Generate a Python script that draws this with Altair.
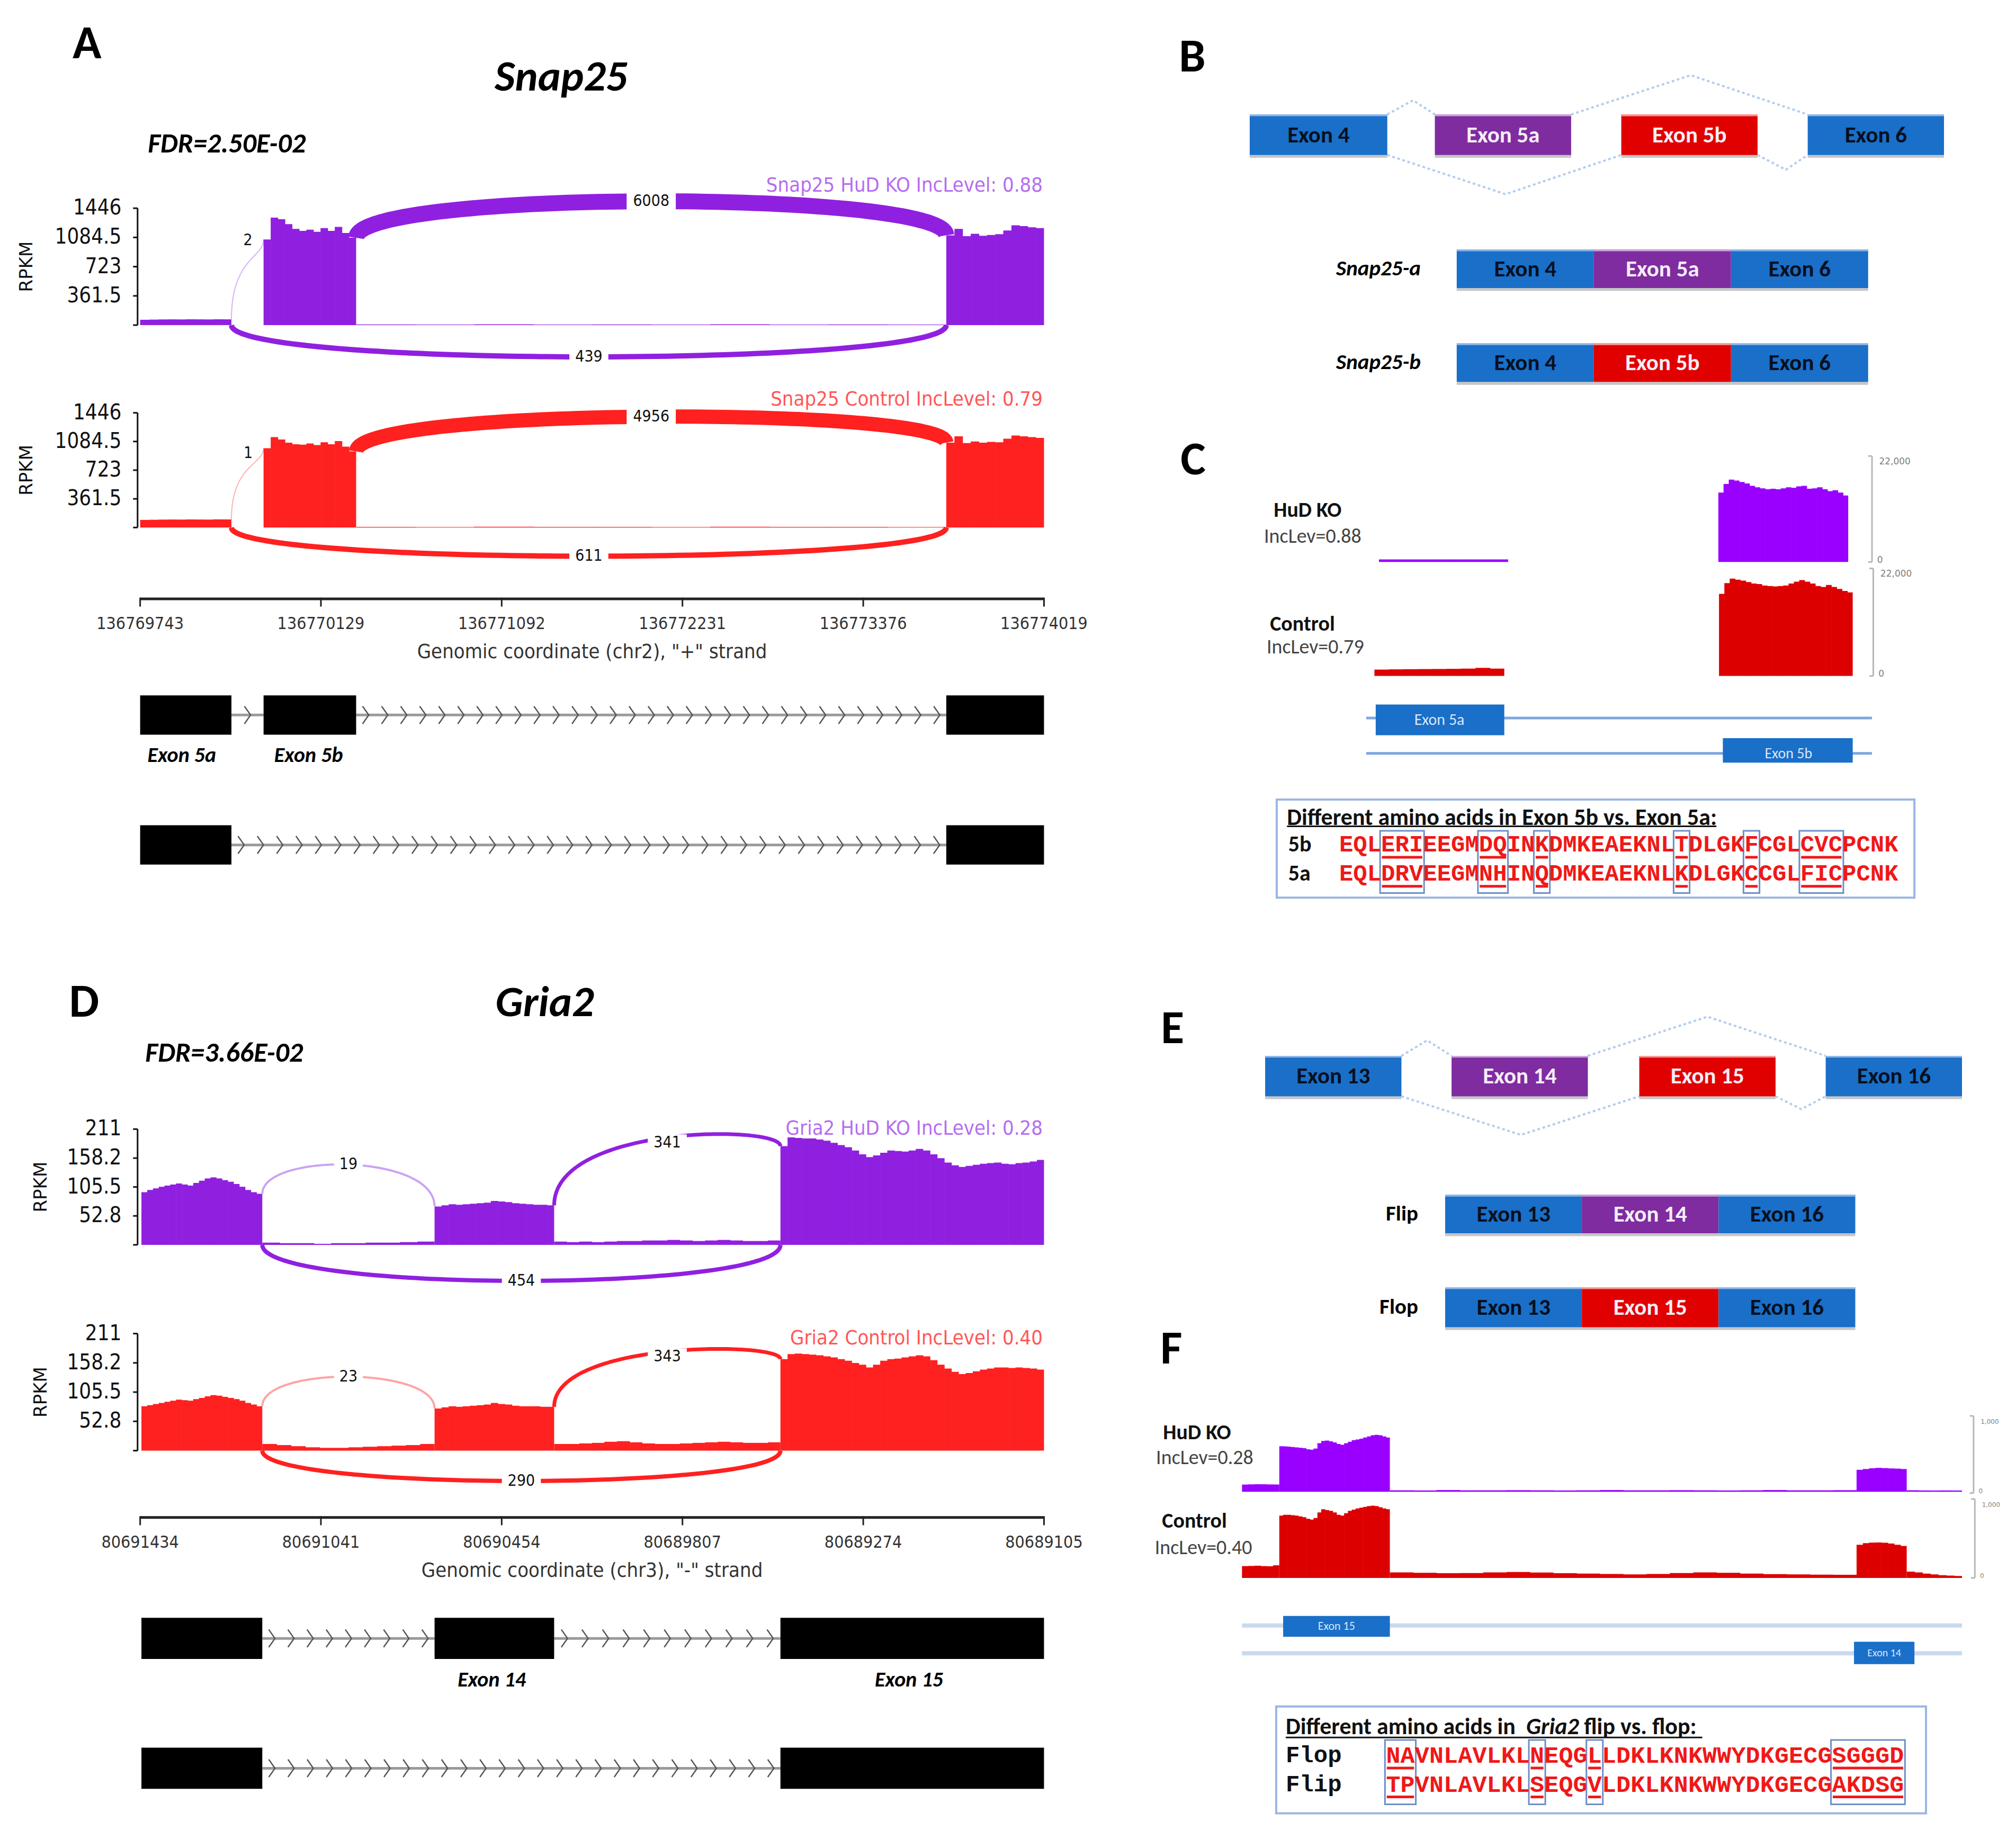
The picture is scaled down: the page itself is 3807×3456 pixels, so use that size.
import altair as alt
import numpy as np
import pandas as pd

# ============================ DATA ============================
# ---- Panel A : Snap25 sashimi plot (RPKM) ----
SNAP_TITLE = "Snap25"
SNAP_FDR = "FDR=2.50E-02"
SNAP_YMAX = 1446
SNAP_YTICKS = [361.5, 723, 1084.5, 1446]
SNAP_XTICKS = ["136769743", "136770129", "136771092", "136772231", "136773376", "136774019"]
SNAP_XTITLE = 'Genomic coordinate (chr2), "+" strand'
SNAP_KO_NAME = "Snap25 HuD KO IncLevel: 0.88"
SNAP_CT_NAME = "Snap25 Control IncLevel: 0.79"
SNAP_KO_EX5A = [66, 68, 70, 71, 70, 72, 71, 70, 72, 71]
SNAP_KO_EX5B = [1060, 1330, 1310, 1250, 1190, 1165, 1180, 1155, 1200, 1165, 1215, 1140, 1080]
SNAP_KO_INTRON = [8, 6, 9, 7, 8, 6, 9, 7, 8, 6]
SNAP_KO_EX6 = [1110, 1190, 1100, 1130, 1105, 1115, 1125, 1170, 1235, 1225, 1210, 1200]
SNAP_CT_EX5A = [96, 98, 100, 101, 100, 102, 101, 100, 103, 102]
SNAP_CT_EX5B = [1000, 1140, 1110, 1070, 1050, 1045, 1060, 1040, 1075, 1050, 1090, 1020, 960]
SNAP_CT_INTRON = [9, 7, 10, 8, 9, 7, 10, 8, 9, 7]
SNAP_CT_EX6 = [1070, 1150, 1065, 1085, 1070, 1080, 1075, 1120, 1160, 1150, 1140, 1130]
SNAP_KO_JUNC = [2, 6008, 439]      # 5a->5b, 5b->6, 5a->6
SNAP_CT_JUNC = [1, 4956, 611]
SNAP_MODEL_LABELS = ["Exon 5a", "Exon 5b"]

# ---- Panel D : Gria2 sashimi plot (RPKM) ----
GRIA_TITLE = "Gria2"
GRIA_FDR = "FDR=3.66E-02"
GRIA_YMAX = 211
GRIA_YTICKS = [52.8, 105.5, 158.2, 211]
GRIA_XTICKS = ["80691434", "80691041", "80690454", "80689807", "80689274", "80689105"]
GRIA_XTITLE = 'Genomic coordinate (chr3), "-" strand'
GRIA_KO_NAME = "Gria2 HuD KO IncLevel: 0.28"
GRIA_CT_NAME = "Gria2 Control IncLevel: 0.40"
GRIA_KO_EX13 = [96, 100, 103, 106, 108, 110, 112, 110, 108, 113, 117, 121, 123, 121, 118, 115, 111, 106, 100, 96, 93]
GRIA_KO_INT1 = [4, 3, 3, 2, 3, 3, 4, 4, 5, 6]
GRIA_KO_EX14 = [70, 72, 74, 73, 74, 75, 76, 77, 80, 79, 78, 76, 75, 74, 73, 73, 72]
GRIA_KO_INT2 = [6, 5, 6, 5, 6, 7, 7, 8, 8, 9, 8, 7, 8, 9, 8, 7, 7, 8]
GRIA_KO_EX15 = [180, 196, 195, 194, 194, 192, 190, 186, 182, 178, 172, 165, 160, 163, 168, 172, 171, 170, 172,
                175, 172, 165, 158, 150, 145, 142, 144, 146, 148, 149, 150, 148, 147, 149, 150, 152, 155]
GRIA_CT_EX13 = [80, 82, 84, 86, 88, 90, 92, 91, 90, 93, 95, 98, 100, 99, 97, 95, 93, 90, 86, 83, 80]
GRIA_CT_INT1 = [12, 10, 8, 6, 5, 5, 6, 7, 8, 9, 10, 12]
GRIA_CT_EX14 = [76, 78, 80, 79, 80, 81, 82, 83, 86, 84, 83, 81, 80, 80, 80, 79, 79]
GRIA_CT_INT2 = [12, 12, 13, 14, 16, 17, 15, 13, 12, 12, 13, 14, 15, 16, 15, 14, 14, 15]
GRIA_CT_EX15 = [165, 174, 175, 174, 173, 172, 170, 168, 165, 162, 158, 155, 150, 155, 162, 165, 166, 168, 170,
                172, 170, 163, 155, 148, 142, 138, 140, 143, 146, 148, 150, 150, 149, 150, 149, 148, 146]
GRIA_KO_JUNC = [19, 341, 454]     # 13->14, 14->15, 13->15
GRIA_CT_JUNC = [23, 343, 290]
GRIA_MODEL_LABELS = ["Exon 14", "Exon 15"]

# ---- Panels B / E : exon diagrams ----
B_EXONS = ["Exon 4", "Exon 5a", "Exon 5b", "Exon 6"]
B_ISOFORMS = ["Snap25-a", "Snap25-b"]
B_ISOFORM_EXONS = [["Exon 4", "Exon 5a", "Exon 6"], ["Exon 4", "Exon 5b", "Exon 6"]]
E_EXONS = ["Exon 13", "Exon 14", "Exon 15", "Exon 16"]
E_ISOFORMS = ["Flip", "Flop"]
E_ISOFORM_EXONS = [["Exon 13", "Exon 14", "Exon 16"], ["Exon 13", "Exon 15", "Exon 16"]]

# ---- Panel C : coverage tracks ----
C_SAMPLES = ["HuD KO", "Control"]
C_INCLEV = ["IncLev=0.88", "IncLev=0.79"]
C_MAX = 22000
C_SCALE_LABELS = ["22,000", "0"]
C_KO_5A = [520, 540, 530, 520, 530, 540, 520]
C_KO_5B = [14400, 16200, 17100, 16900, 16600, 16300, 15800, 15500, 15300, 15100, 15200, 15100, 15300, 15500,
           15400, 15700, 15800, 15200, 15300, 15500, 15100, 14700, 14900, 14400, 13800]
C_CT_5A = [1300, 1350, 1380, 1400, 1420, 1450, 1500, 1650, 1500]
C_CT_5B = [16800, 19000, 19900, 19700, 19500, 19200, 18900, 18800, 18500, 18400, 18300, 18400, 18500, 18900,
           19300, 19600, 19300, 18900, 18400, 18200, 18600, 18200, 17800, 17400, 17100]
C_MODEL = ["Exon 5a", "Exon 5b"]
C_AA_TITLE = "Different amino acids in Exon 5b vs. Exon 5a:"
C_AA_LABELS = ["5b", "5a"]
C_AA_SEQS = ["EQLERIEEGMDQINKDMKEAEKNLTDLGKFCGLCVCPCNK",
             "EQLDRVEEGMNHINQDMKEAEKNLKDLGKCCGLFICPCNK"]
C_AA_GROUPS = [(3, 5), (10, 11), (14, 14), (24, 24), (29, 29), (33, 35)]

# ---- Panel F : coverage tracks ----
F_SAMPLES = ["HuD KO", "Control"]
F_INCLEV = ["IncLev=0.28", "IncLev=0.40"]
F_MAX = 1000
F_SCALE_LABELS = ["1,000", "0"]
F_KO_L = [95, 98, 100, 99, 97, 96]
F_KO_15 = [600, 598, 595, 590, 585, 580, 575, 560, 555, 570, 640, 670, 675, 665, 650, 630, 620, 640, 660, 680,
           690, 700, 715, 730, 745, 750, 745, 730, 715]
F_KO_I = [20, 18, 22, 20, 19, 21, 20, 18, 20, 22, 19, 20, 21, 19, 18, 20, 22, 20, 19, 21]
F_KO_14 = [290, 300, 310, 315, 312, 308, 305, 300]
F_KO_R = [20, 18, 17, 18, 17]
F_CT_L = [150, 152, 155, 150, 148, 160]
F_CT_15 = [790, 800, 800, 795, 790, 780, 770, 750, 740, 760, 830, 870, 860, 850, 830, 800, 790, 820, 850, 865,
           880, 890, 900, 910, 915, 910, 895, 880, 870]
F_CT_I = [70, 65, 60, 62, 70, 75, 68, 60, 55, 50, 45, 50, 62, 70, 65, 55, 48, 45, 42, 40]
F_CT_14 = [420, 440, 448, 450, 445, 435, 420, 405]
F_CT_R = [80, 70, 55, 45, 35, 30, 25]
F_MODEL = ["Exon 15", "Exon 14"]
F_AA_TITLE = ["Different amino acids in ", "Gria2", " flip vs. flop:"]
F_AA_LABELS = ["Flop", "Flip"]
F_AA_SEQS = ["NAVNLAVLKLNEQGLLDKLKNKWWYDKGECGSGGGD",
             "TPVNLAVLKLSEQGVLDKLKNKWWYDKGECGAKDSG"]
F_AA_GROUPS = [(0, 1), (10, 10), (14, 14), (31, 35)]

PANEL_LETTERS = ["A", "B", "C", "D", "E", "F"]

# ============================ STYLE ============================
SASH_PURPLE = "#9020e0"
SASH_RED = "#ff2020"
LABEL_PURPLE = "#b56cf2"
LABEL_RED = "#ff5656"
TRK_PURPLE = "#9900ff"
TRK_RED = "#dd0000"
BLUE = "#1a6fc8"
PURPLE = "#7f2ca0"
RED = "#e00000"
HIGHLIGHT = {BLUE: "#8fb8ea", PURPLE: "#c9a6dc", RED: "#f59a9a"}
EXON_COLOR = {"Exon 4": BLUE, "Exon 5a": PURPLE, "Exon 5b": RED, "Exon 6": BLUE,
              "Exon 13": BLUE, "Exon 14": PURPLE, "Exon 15": RED, "Exon 16": BLUE}
CAL = "Carlito, Lato"
MPL = "DejaVu Sans"
MPLC = "DejaVu Sans Condensed, DejaVu Sans"
MONO = "Liberation Mono, Courier New, monospace"

# figure units = reference pixels / 2.428
KX = 3807 / 1568
KY = 3456 / 1423
XS = alt.Scale(domain=[8 / KX, 3799 / KX], nice=False, zero=False)
YS = alt.Scale(domain=[8 / KY, 3448 / KY], nice=False, zero=False, reverse=True)

COV, LINES, DASHED, FILLS, OUTLINES, CHEVRONS = [], [], [], [], [], []
TEXTS = {}
_gid = [0]


def _g():
    _gid[0] += 1
    return _gid[0]


def line(pts, color, w, op=1.0, dashed=False):
    g = _g()
    tgt = DASHED if dashed else LINES
    for i, (x, y) in enumerate(pts):
        tgt.append({"x": float(x), "y": float(y), "g": g, "o": i, "c": color, "w": w, "op": op})


def coverage(segments, base, h, vmax, color):
    """coverage samples drawn as adjacent columns through the shared scales"""
    for (xa, xb), vals in segments:
        n = len(vals)
        w = (xb - xa) / n
        for i, v in enumerate(vals):
            x0 = xa + i * w
            x1 = min(xb, x0 + w + 0.25)
            COV.append({"x": float(x0), "x2": float(x1), "y": float(base - v / vmax * h),
                        "y2": float(base), "c": color})


def rect(x, x2, y, y2, color):
    FILLS.append({"x": float(x), "x2": float(x2), "y": float(y), "y2": float(y2), "c": color})


def box(x, x2, y, y2, color, w):
    OUTLINES.append({"x": float(x), "x2": float(x2), "y": float(y), "y2": float(y2), "c": color, "w": w})


def text(x, y, t, size, color="black", font=CAL, weight="normal", style="normal",
         align="center", baseline="middle", angle=0):
    key = (font, weight, style, align, baseline, angle)
    TEXTS.setdefault(key, []).append({"x": float(x), "y": float(y), "t": t, "s": size, "c": color})


def yv(v, base, h, vmax):
    return base - v / vmax * h


def bezier(x0, y0, x1, y1, apex, n=90):
    yc = (apex - 0.125 * (y0 + y1)) / 0.75
    t = np.linspace(0, 1, n)
    xs = (1 - t) ** 3 * x0 + 3 * (1 - t) ** 2 * t * x0 + 3 * (1 - t) * t ** 2 * x1 + t ** 3 * x1
    ys = (1 - t) ** 3 * y0 + 3 * (1 - t) ** 2 * t * yc + 3 * (1 - t) * t ** 2 * yc + t ** 3 * y1
    return list(zip(xs, ys))


def junction_label(x, y, t, fs=30):
    w = (len(t) * 0.64 * fs + 16) / KX
    hh = fs * 1.05 / KY
    rect(x - w / 2, x + w / 2, y - hh / 2, y + hh / 2, "white")
    text(x, y, t, fs, "#111", font=MPLC)


def fmt(v):
    return f"{v:g}"


AX0, AX1 = 109, 812


def y_axis(base, h, vmax, ticks, rpkm_x):
    x = 107
    line([(x, base), (x, yv(vmax, base, h, vmax))], "#111", 3)
    for v in [0] + list(ticks):
        yy = yv(v, base, h, vmax)
        line([(x - 3.5, yy), (x, yy)], "#111", 3)
        if v:
            text(94.5, yy, fmt(v), 40, "#111", font=MPLC, align="right")
    text(rpkm_x, base - h / 2, "RPKM", 34, "#111", font=MPL, angle=270)


def x_axis(y, labels, title):
    line([(AX0, y), (AX1, y)], "#222", 5)
    n = len(labels)
    for i, lab in enumerate(labels):
        x = AX0 + i * (AX1 - AX0) / (n - 1)
        line([(x, y - 1), (x, y + 6)], "#222", 3)
        text(x, y + 19.5, lab, 32, "#333", font=MPLC)
    text((AX0 + AX1) / 2, y + 41.5, title, 38, "#333", font=MPLC)


def gene_model(yc, exons, h):
    for (a, b), (c, d) in zip(exons[:-1], exons[1:]):
        line([(b, yc), (c, yc)], "#9a9a9a", 5)
        n = max(1, int((c - b) / 14.8))
        for k in range(n):
            CHEVRONS.append({"x": b + (k + 0.5) * (c - b) / n, "y": yc})
    for a, b in exons:
        rect(a, b, yc - h / 2, yc + h / 2, "black")


# ============================ PANEL A ============================
text(67.7, 34, PANEL_LETTERS[0], 90, font=CAL, weight="bold")
text(436.5, 70.3, SNAP_TITLE, 82, font=CAL, weight="bold", style="italic", baseline="alphabetic")
text(115, 118.5, SNAP_FDR, 52, font=CAL, weight="bold", style="italic", align="left", baseline="alphabetic")

SNAP_EX = [(109, 180), (205, 277), (736, 812)]


def snap_track(base, h, color, label_color, name, name_y, ex5a, ex5b, intr, ex6, junc,
               apex_top, w_top, small_lab, apex_bot, w_bot):
    segs = [(SNAP_EX[0], ex5a), (SNAP_EX[1], ex5b), ((SNAP_EX[1][1], SNAP_EX[2][0]), intr), (SNAP_EX[2], ex6)]
    coverage(segs, base, h, SNAP_YMAX, color)
    y_axis(base, h, SNAP_YMAX, SNAP_YTICKS, 20.8)
    # small junction 5a->5b
    y0 = yv(ex5a[-1], base, h, SNAP_YMAX)
    y1 = yv(ex5b[0], base, h, SNAP_YMAX)
    line(bezier(SNAP_EX[0][1], y0, SNAP_EX[1][0], y1, y1 + 0.3 * (y0 - y1)), color, 2, op=0.35)
    text(small_lab[0], small_lab[1], str(junc[0]), 30, "#111", font=MPLC)
    # 5b -> 6
    x0, x1 = SNAP_EX[1][1], SNAP_EX[2][0]
    y0 = yv(ex5b[-1], base, h, SNAP_YMAX)
    y1 = yv(ex6[0], base, h, SNAP_YMAX)
    line(bezier(x0, y0, x1, y1, apex_top), color, w_top)
    junction_label((x0 + x1) / 2, apex_top, str(junc[1]))
    # 5a -> 6 (below)
    x0, x1 = SNAP_EX[0][1], SNAP_EX[2][0]
    line(bezier(x0, base, x1, base, apex_bot), color, w_bot)
    junction_label((x0 + x1) / 2, apex_bot, str(junc[2]))
    text(811, name_y, name, 38, label_color, font=MPLC, align="right")


snap_track(252.8, 90.9, SASH_PURPLE, LABEL_PURPLE, SNAP_KO_NAME, 144.5, SNAP_KO_EX5A, SNAP_KO_EX5B,
           SNAP_KO_INTRON, SNAP_KO_EX6, SNAP_KO_JUNC, 156.5, 30, (192.8, 187), 277.5, 10)
snap_track(410.2, 89.2, SASH_RED, LABEL_RED, SNAP_CT_NAME, 311, SNAP_CT_EX5A, SNAP_CT_EX5B,
           SNAP_CT_INTRON, SNAP_CT_EX6, SNAP_CT_JUNC, 324, 27, (193, 352.5), 432.5, 10)
x_axis(465.7, SNAP_XTICKS, SNAP_XTITLE)
gene_model(556, SNAP_EX, 30.5)
gene_model(657, [SNAP_EX[0], SNAP_EX[2]], 30.5)
text(141.4, 587.7, SNAP_MODEL_LABELS[0], 40, font=CAL, weight="bold", style="italic")
text(240, 587.7, SNAP_MODEL_LABELS[1], 40, font=CAL, weight="bold", style="italic")

# ============================ PANEL D ============================
text(65.4, 779.5, PANEL_LETTERS[3], 90, font=CAL, weight="bold")
text(423.6, 790.2, GRIA_TITLE, 82, font=CAL, weight="bold", style="italic", baseline="alphabetic")
text(113, 825.5, GRIA_FDR, 52, font=CAL, weight="bold", style="italic", align="left", baseline="alphabetic")

GRIA_EX = [(110, 204), (338, 431), (607, 812)]


def gria_track(base, h, color, light, label_color, name, name_y, ex13, int1, ex14, int2, ex15, junc,
               apex1, apex2, apex3):
    segs = [(GRIA_EX[0], ex13), ((GRIA_EX[0][1], GRIA_EX[1][0]), int1), (GRIA_EX[1], ex14),
            ((GRIA_EX[1][1], GRIA_EX[2][0]), int2), (GRIA_EX[2], ex15)]
    coverage(segs, base, h, GRIA_YMAX, color)
    y_axis(base, h, GRIA_YMAX, GRIA_YTICKS, 32)
    # 13 -> 14
    x0, x1 = GRIA_EX[0][1], GRIA_EX[1][0]
    line(bezier(x0, yv(ex13[-1], base, h, GRIA_YMAX), x1, yv(ex14[0], base, h, GRIA_YMAX), apex1), light, 4)
    junction_label((x0 + x1) / 2, apex1, str(junc[0]))
    # 14 -> 15
    x0, x1 = GRIA_EX[1][1], GRIA_EX[2][0]
    line(bezier(x0, yv(ex14[-1], base, h, GRIA_YMAX), x1, yv(ex15[0], base, h, GRIA_YMAX), apex2), color, 7)
    junction_label((x0 + x1) / 2, apex2 + 4, str(junc[1]))
    # 13 -> 15 (below)
    x0, x1 = GRIA_EX[0][1], GRIA_EX[2][0]
    line(bezier(x0, base, x1, base, apex3), color, 8)
    junction_label((x0 + x1) / 2, apex3, str(junc[2]))
    text(811, name_y, name, 38, label_color, font=MPLC, align="right")


gria_track(968, 90, SASH_PURPLE, "#c9a3f2", LABEL_PURPLE, GRIA_KO_NAME, 878, GRIA_KO_EX13, GRIA_KO_INT1,
           GRIA_KO_EX14, GRIA_KO_INT2, GRIA_KO_EX15, GRIA_KO_JUNC, 905.6, 884.5, 996)
gria_track(1128, 91, SASH_RED, "#ffa3a3", LABEL_RED, GRIA_CT_NAME, 1041, GRIA_CT_EX13, GRIA_CT_INT1,
           GRIA_CT_EX14, GRIA_CT_INT2, GRIA_CT_EX15, GRIA_CT_JUNC, 1070.5, 1051, 1151.6)
x_axis(1180, GRIA_XTICKS, GRIA_XTITLE)
gene_model(1274, GRIA_EX, 32)
gene_model(1375, [GRIA_EX[0], GRIA_EX[2]], 32)
text(382.5, 1306.4, GRIA_MODEL_LABELS[0], 40, font=CAL, weight="bold", style="italic")
text(707, 1306.4, GRIA_MODEL_LABELS[1], 40, font=CAL, weight="bold", style="italic")


# ============================ PANELS B / E ============================
def exon_box(x0, x1, y0, y1, name, fs=43):
    col = EXON_COLOR[name]
    rect(x0, x1, y1, y1 + 2.2, "#c6c6c6")
    rect(x0, x1, y0, y1, col)
    rect(x0, x1, y0, y0 + 1.4, HIGHLIGHT[col])
    text((x0 + x1) / 2, (y0 + y1) / 2 + 0.5, name, fs, "#06101f" if col == BLUE else "#f6eef8",
         font=CAL, weight=600)


def diagram(letter, letter_xy, exons, top_x, ty0, ty1, peaks, isoforms, iso_exons, iso_x, iso_rows,
            lab_x, lab_style):
    text(letter_xy[0], letter_xy[1], letter, 90, font=CAL, weight="bold")
    for (a, b), n in zip(top_x, exons):
        exon_box(a, b, ty0, ty1, n)
    (p1, p2, p3, p4) = peaks
    line([(top_x[0][1], ty0), p1, (top_x[1][0], ty0)], "#b3cdee", 4, dashed=True)
    line([(top_x[1][1], ty0), p2, (top_x[3][0], ty0)], "#b3cdee", 4, dashed=True)
    line([(top_x[0][1], ty1), p3, (top_x[2][0], ty1)], "#b3cdee", 4, dashed=True)
    line([(top_x[2][1], ty1), p4, (top_x[3][0], ty1)], "#b3cdee", 4, dashed=True)
    xs = np.linspace(iso_x[0], iso_x[1], 4)
    for lab, exs, (y0, y1) in zip(isoforms, iso_exons, iso_rows):
        for i, n in enumerate(exs):
            exon_box(xs[i], xs[i + 1], y0, y1, n)
        text(lab_x, (y0 + y1) / 2, lab, 41, font=CAL, weight="bold", style=lab_style, align="right")


diagram(PANEL_LETTERS[1], (927.3, 44.3), B_EXONS,
        [(972, 1079), (1116, 1222), (1261, 1367), (1406, 1512)], 89, 120.5,
        [(1099, 78), (1315, 58.5), (1171, 151), (1389, 132)],
        B_ISOFORMS, B_ISOFORM_EXONS, (1133, 1453), [(194, 224), (267, 297)], 1105, "italic")
diagram(PANEL_LETTERS[4], (912, 800), E_EXONS,
        [(984, 1090), (1129, 1235), (1275, 1381), (1420, 1526)], 821, 852.5,
        [(1110, 809), (1328, 790.6), (1183, 882.5), (1401, 862.5)],
        E_ISOFORMS, E_ISOFORM_EXONS, (1124, 1443), [(929, 959), (1001, 1032)], 1103, "normal")


# ============================ PANELS C / F ============================
def scale_bar(x, top, base, labels, fs):
    line([(x, top), (x, base)], "#b8b8b8", 3)
    line([(x - 3, base), (x, base)], "#b8b8b8", 3)
    line([(x - 3, top), (x, top)], "#b8b8b8", 3)
    text(x + 5.5, top + 4.5, labels[0], fs, "#808080", font=MPL, align="left")
    text(x + 4, base - 1.5, labels[1], fs, "#808080", font=MPL, align="left")


def aa_box(bx, by, title_parts, title_y, ul, labels, label_font, label_fs, lab_x, seqs, seq_x0, pitch,
           row_ys, groups, gy, seq_fs):
    box(bx[0], bx[1], by[0], by[1], "#9ab6e3", 4)
    for (tx, t, st) in title_parts:
        text(tx, title_y, t, 44, "#111", font=CAL, weight="bold", style=st, align="left")
    line([(ul[0], ul[2]), (ul[1], ul[2])], "#111", 3)
    for lab, seq, ry in zip(labels, seqs, row_ys):
        text(lab_x, ry, lab, label_fs, "#111", font=label_font, weight="bold", align="left")
        for i, ch in enumerate(seq):
            text(seq_x0 + (i + 0.5) * pitch, ry, ch, seq_fs, "#f01818", font=MONO, weight="bold")
        for a, b in groups:
            line([(seq_x0 + a * pitch + 0.6, ry + 9.8), (seq_x0 + (b + 1) * pitch - 0.6, ry + 9.8)], "#f01818", 5)
    for a, b in groups:
        box(seq_x0 + a * pitch - 0.8, seq_x0 + (b + 1) * pitch + 0.8, gy[0], gy[1], "#6d8ec8", 3)


# ---- C ----
text(928, 358, PANEL_LETTERS[2], 90, font=CAL, weight="bold")
for lab, inc, (lx, ly, ix, iy) in zip(C_SAMPLES, C_INCLEV, [(1017, 397, 1021, 417.5), (1013, 485.5, 1023, 503.7)]):
    text(lx, ly, lab, 40, "#111", font=CAL, weight="bold")
    text(ix, iy, inc, 38, "#444", font=CAL)
coverage([((1072.5, 1173), C_KO_5A), ((1336.5, 1437.5), C_KO_5B)], 437, 82.4, C_MAX, TRK_PURPLE)
coverage([((1069, 1170), C_CT_5A), ((1337, 1441), C_CT_5B)], 525.6, 83.6, C_MAX, TRK_RED)
scale_bar(1456, 354.6, 437, C_SCALE_LABELS, 17)
scale_bar(1457, 442, 525.6, C_SCALE_LABELS, 17)
line([(1062.6, 558.3), (1456, 558.3)], "#7ea6e0", 5)
rect(1070, 1170, 547.8, 571.7, BLUE)
text(1119.5, 560, C_MODEL[0], 30, "#d9e6f6", font=CAL)
line([(1062.6, 585.8), (1456, 585.8)], "#7ea6e0", 5)
rect(1340, 1441, 574, 593, BLUE)
text(1391, 586.5, C_MODEL[1], 28, "#d9e6f6", font=CAL)
aa_box((993, 1489), (621.7, 698), [(1001, C_AA_TITLE, "normal")], 636, (1001, 1335, 642.5),
       C_AA_LABELS, CAL, 42, 1002, C_AA_SEQS, 1041.6, 10.87, [656.8, 679.4], C_AA_GROUPS, (646, 694.4), 44)

# ---- F ----
text(911, 1049, PANEL_LETTERS[5], 90, font=CAL, weight="bold")
for lab, inc, (lx, ly, ix, iy) in zip(F_SAMPLES, F_INCLEV, [(931, 1114, 937, 1134), (929, 1183, 936, 1204)]):
    text(lx, ly, lab, 40, "#111", font=CAL, weight="bold")
    text(ix, iy, inc, 38, "#444", font=CAL)
coverage([((966, 995), F_KO_L), ((995, 1081), F_KO_15), ((1081, 1444), F_KO_I),
          ((1444, 1483), F_KO_14), ((1483, 1526), F_KO_R)], 1160, 59, F_MAX, TRK_PURPLE)
coverage([((966, 995), F_CT_L), ((995, 1081), F_CT_15), ((1081, 1444), F_CT_I),
          ((1444, 1483), F_CT_14), ((1483, 1526), F_CT_R)], 1227, 61.4, F_MAX, TRK_RED)
scale_bar(1535, 1101, 1161, F_SCALE_LABELS, 12)
scale_bar(1536, 1165.6, 1227, F_SCALE_LABELS, 12)
line([(966, 1264), (1526, 1264)], "#c9d9f0", 8)
rect(998, 1081, 1256.5, 1272.7, BLUE)
text(1039.5, 1264.6, F_MODEL[0], 22, "#d9e6f6", font=CAL)
line([(966, 1285.6), (1526, 1285.6)], "#c9d9f0", 8)
rect(1442, 1489, 1276.6, 1294, BLUE)
text(1465.5, 1285.6, F_MODEL[1], 20, "#d9e6f6", font=CAL)
aa_box((992.6, 1498), (1327, 1410),
       [(1000, F_AA_TITLE[0], "normal"), (1187, F_AA_TITLE[1], "italic"), (1232, F_AA_TITLE[2], "normal")],
       1343, (1000, 1324, 1351), F_AA_LABELS, MONO, 44, 1000, F_AA_SEQS, 1078, 11.19, [1365, 1387.5],
       F_AA_GROUPS, (1353, 1403), 45)

# ============================ CHART ============================
X = alt.X("x:Q", scale=XS, axis=None)
Y = alt.Y("y:Q", scale=YS, axis=None)
C = alt.Color("c:N", scale=None)

layers = []
layers.append(alt.Chart(pd.DataFrame(COV)).mark_rect().encode(x=X, x2="x2:Q", y=Y, y2="y2:Q", color=C))
layers.append(alt.Chart(pd.DataFrame(LINES)).mark_line(strokeCap="butt", strokeJoin="round").encode(
    x=X, y=Y, detail="g:N", order="o:Q", color=C,
    strokeWidth=alt.StrokeWidth("w:Q", scale=None), opacity=alt.Opacity("op:Q", scale=None)))
layers.append(alt.Chart(pd.DataFrame(DASHED)).mark_line(strokeDash=[5, 5], strokeCap="butt").encode(
    x=X, y=Y, detail="g:N", order="o:Q", color=C, strokeWidth=alt.StrokeWidth("w:Q", scale=None)))
layers.append(alt.Chart(pd.DataFrame(FILLS)).mark_rect().encode(x=X, x2="x2:Q", y=Y, y2="y2:Q", color=C))
layers.append(alt.Chart(pd.DataFrame(OUTLINES)).mark_rect(filled=False).encode(
    x=X, x2="x2:Q", y=Y, y2="y2:Q", color=C, strokeWidth=alt.StrokeWidth("w:Q", scale=None)))
layers.append(alt.Chart(pd.DataFrame(CHEVRONS)).mark_point(
    shape="M -0.35 -1 L 0.35 0 L -0.35 1", filled=False, size=1100, strokeWidth=2.5,
    color="#555555", opacity=1).encode(x=X, y=Y))
for (font, weight, style, align, baseline, angle), rows in TEXTS.items():
    layers.append(alt.Chart(pd.DataFrame(rows)).mark_text(
        font=font, fontWeight=weight, fontStyle=style, align=align, baseline=baseline, angle=angle
    ).encode(x=X, y=Y, text="t:N", size=alt.Size("s:Q", scale=None), color=C))

chart = alt.layer(*layers).properties(
    width=3791, height=3440, padding=0, background="white"
).configure_view(stroke=None)

chart.save("out.html", embed_options={"renderer": "svg", "actions": False})
